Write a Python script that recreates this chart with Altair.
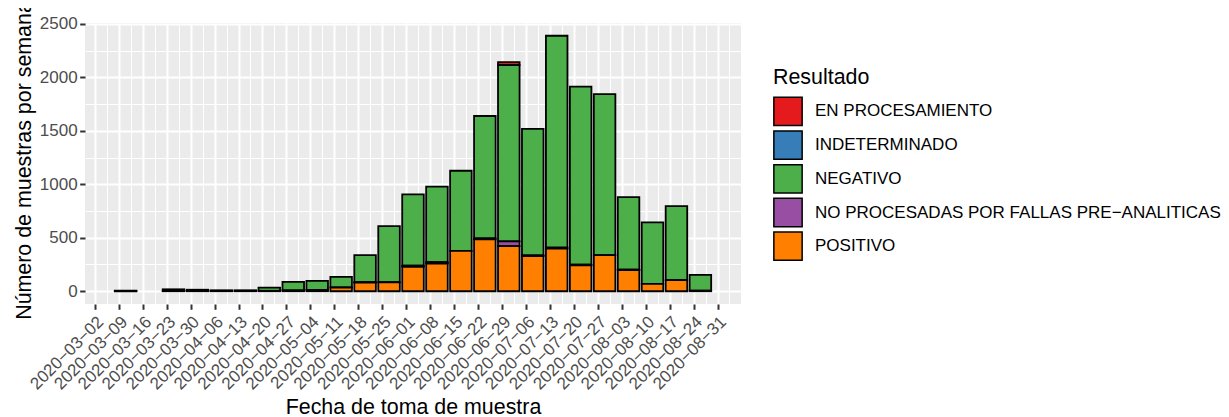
import altair as alt
import pandas as pd

# ---------------- data ----------------
semanas = ["2020-03-11", "2020-03-25", "2020-04-01", "2020-04-08", "2020-04-15",
           "2020-04-22", "2020-04-29", "2020-05-06", "2020-05-13", "2020-05-20",
           "2020-05-27", "2020-06-03", "2020-06-10", "2020-06-17", "2020-06-24",
           "2020-07-01", "2020-07-08", "2020-07-15", "2020-07-22", "2020-07-29",
           "2020-08-05", "2020-08-12", "2020-08-19", "2020-08-26"]
positivo = [2, 4, 3, 2, 2, 4, 8, 12, 35, 80, 84, 228, 259, 377, 485, 421, 328, 398,
            243, 337, 197, 68, 103, 5]
negativo = [4, 14, 11, 7, 7, 29, 79, 85, 99, 252, 525, 666, 706, 749, 1143, 1647,
            1181, 1980, 1665, 1505, 678, 575, 693, 148]
no_procesadas = [0, 0, 0, 0, 0, 0, 0, 0, 0, 5, 0, 11, 12, 0, 10, 45, 8, 10, 5, 0, 5, 0, 0, 0]
indeterminado = [0] * 24
en_procesamiento = [0, 0, 0, 0, 0, 0, 0, 0, 0, 0, 0, 0, 0, 0, 0, 28, 0, 0, 0, 0, 0, 0, 0, 0]

categorias = ["EN PROCESAMIENTO", "INDETERMINADO", "NEGATIVO",
              "NO PROCESADAS POR FALLAS PRE\u2212ANALITICAS", "POSITIVO"]
colores = ["#E41A1C", "#377EB8", "#4DAF4A", "#984EA3", "#FF7F00"]
series = [en_procesamiento, indeterminado, negativo, no_procesadas, positivo]

# ---------------- build table ----------------
DAY = 86400000
EPOCH = pd.Timestamp("1970-01-01")


def ms(s):
    return int((pd.Timestamp(s) - EPOCH) // pd.Timedelta("1ms"))


rows = []
for ci, (cat, vals) in enumerate(zip(categorias, series)):
    for s, v in zip(semanas, vals):
        if v > 0:
            c = ms(s)
            rows.append({
                "semana": c,
                "inicio": c - 0.45 * 7 * DAY,
                "fin": c + 0.45 * 7 * DAY,
                "Resultado": cat,
                "n": v,
                "orden": len(categorias) - 1 - ci,
            })
df = pd.DataFrame(rows)

totales = [sum(x) for x in zip(*series)]
ymax = max(totales)
ydom = [-0.05 * ymax, 1.05 * ymax]

lo, hi = df["inicio"].min(), df["fin"].max()
rng = hi - lo
xdom = [lo - 0.05 * rng, hi + 0.05 * rng]

majors = [ms(d) for d in pd.date_range("2020-03-02", "2020-08-31", freq="7D")]
minors = [m - 3.5 * DAY for m in majors] + [majors[-1] + 3.5 * DAY]
xvals = sorted(v for v in majors + minors if xdom[0] <= v <= xdom[1])

yvals = [v for v in range(-250, 2751, 250) if ydom[0] <= v <= ydom[1]]

FONT = "Liberation Sans"

x_major = "utchours(datum.value) === 0"
y_major = "datum.value % 500 === 0"

chart = alt.Chart(df).transform_stack(
    stack="n",
    groupby=["semana"],
    as_=["y0", "y1"],
    sort=[alt.SortField("orden", order="ascending")],
).mark_bar(stroke="black", strokeWidth=1.8).encode(
    x=alt.X(
        "inicio:T",
        scale=alt.Scale(type="utc", domain=xdom, nice=False),
        axis=alt.Axis(
            values=xvals,
            labelExpr=f"{x_major} ? utcFormat(datum.value, '%Y\u2212%m\u2212%d') : ''",
            labelAngle=-45, labelAlign="right", labelBaseline="top",
            labelOverlap=False, labelFlush=False, labelBound=False,
            labelFontSize=17, labelColor="#4D4D4D", labelPadding=4,
            tickSize=5.3, tickWidth=2, tickColor="#333333",
            tickOpacity={"condition": {"test": x_major, "value": 1}, "value": 0},
            grid=True, gridColor="white",
            gridWidth={"condition": {"test": x_major, "value": 2}, "value": 1},
            domain=False,
            title="Fecha de toma de muestra", titleFontSize=21.4,
            titleFontWeight="normal", titleColor="black",
            titleAlign="center", titleBaseline="alphabetic",
            titleX=328, titleY=109,
        ),
    ),
    x2="fin:T",
    y=alt.Y(
        "y0:Q",
        scale=alt.Scale(domain=ydom, nice=False, zero=False),
        axis=alt.Axis(
            values=yvals,
            labelExpr=f"{y_major} ? format(datum.value, 'd') : ''",
            labelFontSize=17, labelColor="#4D4D4D", labelPadding=2.5,
            tickSize=5.3, tickWidth=2, tickColor="#333333",
            tickOpacity={"condition": {"test": y_major, "value": 1}, "value": 0},
            grid=True, gridColor="white",
            gridWidth={"condition": {"test": y_major, "value": 2}, "value": 1},
            domain=False,
            title="Número de muestras por semana", titleFontSize=21.4,
            titleFontWeight="normal", titleColor="black",
            titleAlign="center", titleBaseline="alphabetic",
            titleX=-55, titleY=137,
        ),
    ),
    y2="y1:Q",
    color=alt.Color(
        "Resultado:N",
        scale=alt.Scale(domain=categorias, range=colores),
        legend=alt.Legend(
            orient="none", legendX=688, legendY=44,
            title="Resultado", titleFontSize=21.4, titleFontWeight="normal",
            titleColor="black", titlePadding=8,
            labelFontSize=17, labelColor="black", labelLimit=0, labelOffset=12,
            symbolType="square", symbolSize=800,
            symbolStrokeColor="black", symbolStrokeWidth=1.5, symbolOpacity=1,
            rowPadding=-2.3, padding=0,
        ),
    ),
).properties(
    width=656,
    height=281,
    padding={"left": 77, "top": 15, "right": 480, "bottom": 113},
    autosize=alt.AutoSizeParams(type="none"),
).configure(
    font=FONT,
    background="white",
).configure_view(
    fill="#EBEBEB",
    strokeWidth=0,
)

chart.save("out.html", embed_options={"renderer": "svg", "actions": False})
